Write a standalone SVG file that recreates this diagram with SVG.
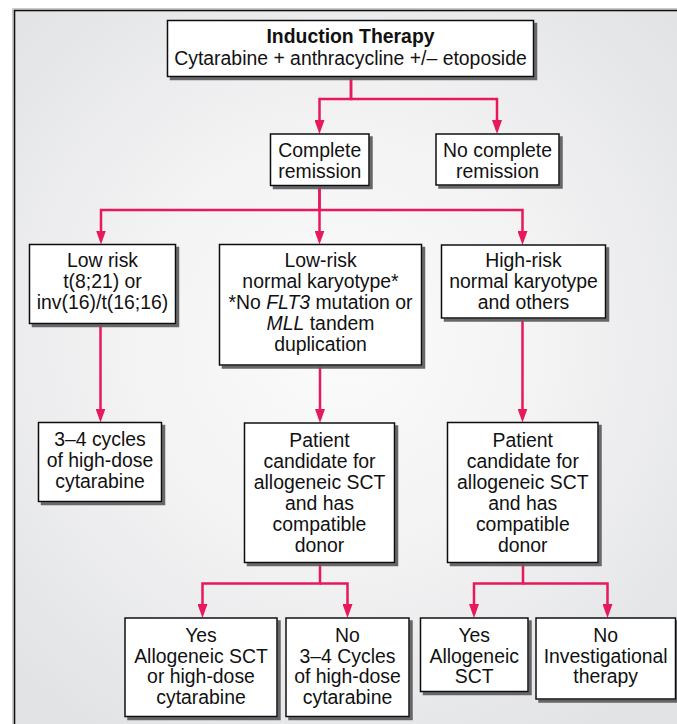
<svg xmlns="http://www.w3.org/2000/svg" width="677" height="724" viewBox="0 0 677 724">
  <defs>
    <radialGradient id="bg" gradientUnits="userSpaceOnUse" cx="340" cy="340" r="460">
      <stop offset="0" stop-color="#fbfbfb"/>
      <stop offset="0.45" stop-color="#f3f3f4"/>
      <stop offset="1" stop-color="#e2e3e5"/>
    </radialGradient>
    <filter id="shadow" x="-10%" y="-10%" width="130%" height="130%">
      <feDropShadow dx="3" dy="3" stdDeviation="0.5" flood-color="#606063" flood-opacity="0.95"/>
    </filter>
    <marker id="arrow" markerUnits="userSpaceOnUse" viewBox="0 0 14 10" markerWidth="14" markerHeight="10" refX="10" refY="5" orient="auto">
      <path d="M0,0 L14,5 L0,10 Z" fill="#e8195a"/>
    </marker>
  </defs>
  <style>
    .box { fill: #ffffff; stroke: #111111; stroke-width: 1.5; filter: url(#shadow); }
    .lbl { font-family: "Liberation Sans", Arial, Helvetica, sans-serif; font-size: 19.4px; fill: #111111; text-anchor: middle; }
    .b { font-weight: bold; }
    .i { font-style: italic; }
    .edge { fill: none; stroke: #e8195a; stroke-width: 2.5; stroke-linejoin: miter; }
  </style>

  <!-- page frame -->
  <rect x="0" y="0" width="677" height="724" fill="#ffffff"/>
  <rect x="14" y="10" width="700" height="760" fill="url(#bg)"/>
  <rect x="12.8" y="8.8" width="702" height="762" fill="none" stroke="#b5b5b5" stroke-width="1"/>
  <rect x="14.5" y="10.5" width="700" height="760" fill="none" stroke="#111111" stroke-width="1.6"/>

  <!-- connectors -->
  <g id="connectors">
    <path class="edge" d="M351,77 V99 H319.5 V130" marker-end="url(#arrow)"/>
    <path class="edge" d="M351,77 V99 H497 V130" marker-end="url(#arrow)"/>
    <path class="edge" d="M319.5,186 V210 H101 V240.5" marker-end="url(#arrow)"/>
    <path class="edge" d="M319.5,186 V240.5" marker-end="url(#arrow)"/>
    <path class="edge" d="M319.5,210 H522.5 V241" marker-end="url(#arrow)"/>
    <path class="edge" d="M100.5,324 V418.5" marker-end="url(#arrow)"/>
    <path class="edge" d="M320,365.5 V419" marker-end="url(#arrow)"/>
    <path class="edge" d="M522.5,318.5 V418.5" marker-end="url(#arrow)"/>
    <path class="edge" d="M320,563 V583.5 H202.5 V614" marker-end="url(#arrow)"/>
    <path class="edge" d="M320,583.5 H347.5 V614" marker-end="url(#arrow)"/>
    <path class="edge" d="M523,563 V583.5 H474 V614" marker-end="url(#arrow)"/>
    <path class="edge" d="M523,583.5 H607.5 V614" marker-end="url(#arrow)"/>
  </g>

  <g id="induction">
    <rect class="box" x="167.5" y="20.5" width="366" height="56"/>
    <text class="lbl b" x="350.5" y="42.5">Induction Therapy</text>
    <text class="lbl" x="350.5" y="65">Cytarabine + anthracycline +/– etoposide</text>
  </g>

  <g id="complete">
    <rect class="box" x="270.5" y="134" width="98.5" height="51.5"/>
    <text class="lbl" x="319.8" y="156.5">Complete</text>
    <text class="lbl" x="319.8" y="177.5">remission</text>
  </g>

  <g id="no-complete">
    <rect class="box" x="436" y="134" width="123" height="51"/>
    <text class="lbl" x="497.5" y="156.5">No complete</text>
    <text class="lbl" x="497.5" y="177.5">remission</text>
  </g>

  <g id="low-risk">
    <rect class="box" x="29.5" y="244.5" width="146" height="79"/>
    <text class="lbl" x="102.5" y="267.3">Low risk</text>
    <text class="lbl" x="102.5" y="288.3">t(8;21) or</text>
    <text class="lbl" x="102.5" y="309.3">inv(16)/t(16;16)</text>
  </g>

  <g id="low-risk-normal">
    <rect class="box" x="219.5" y="244.5" width="202" height="120.5"/>
    <text class="lbl" x="320.5" y="267.3">Low-risk</text>
    <text class="lbl" x="320.5" y="288.3">normal karyotype*</text>
    <text class="lbl" x="320.5" y="309.3">*No <tspan class="i">FLT3</tspan> mutation or</text>
    <text class="lbl" x="320.5" y="330.2"><tspan class="i">MLL</tspan> tandem</text>
    <text class="lbl" x="320.5" y="351.2">duplication</text>
  </g>

  <g id="high-risk">
    <rect class="box" x="441.5" y="245" width="164" height="73"/>
    <text class="lbl" x="523.5" y="267.3">High-risk</text>
    <text class="lbl" x="523.5" y="288.3">normal karyotype</text>
    <text class="lbl" x="523.5" y="309.3">and others</text>
  </g>

  <g id="cycles">
    <rect class="box" x="38.5" y="422.5" width="123" height="79"/>
    <text class="lbl" x="100" y="446">3–4 cycles</text>
    <text class="lbl" x="100" y="466.8">of high-dose</text>
    <text class="lbl" x="100" y="487.7">cytarabine</text>
  </g>

  <g id="patient-low">
    <rect class="box" x="244.5" y="423" width="150" height="139.5"/>
    <text class="lbl" x="319.5" y="446.7">Patient</text>
    <text class="lbl" x="319.5" y="467.5">candidate for</text>
    <text class="lbl" x="319.5" y="488.5">allogeneic SCT</text>
    <text class="lbl" x="319.5" y="509.5">and has</text>
    <text class="lbl" x="319.5" y="530.5">compatible</text>
    <text class="lbl" x="319.5" y="551.5">donor</text>
  </g>

  <g id="patient-high">
    <rect class="box" x="447.5" y="422.5" width="150.5" height="140"/>
    <text class="lbl" x="522.8" y="446.7">Patient</text>
    <text class="lbl" x="522.8" y="467.5">candidate for</text>
    <text class="lbl" x="522.8" y="488.5">allogeneic SCT</text>
    <text class="lbl" x="522.8" y="509.5">and has</text>
    <text class="lbl" x="522.8" y="530.5">compatible</text>
    <text class="lbl" x="522.8" y="551.5">donor</text>
  </g>

  <g id="yes-low">
    <rect class="box" x="125" y="618" width="152" height="98.5"/>
    <text class="lbl" x="201" y="641.7">Yes</text>
    <text class="lbl" x="201" y="662.7">Allogeneic SCT</text>
    <text class="lbl" x="201" y="683.3">or high-dose</text>
    <text class="lbl" x="201" y="704">cytarabine</text>
  </g>

  <g id="no-low">
    <rect class="box" x="286" y="618" width="123" height="98.5"/>
    <text class="lbl" x="347.5" y="641.7">No</text>
    <text class="lbl" x="347.5" y="662.7">3–4 Cycles</text>
    <text class="lbl" x="347.5" y="683.3">of high-dose</text>
    <text class="lbl" x="347.5" y="704">cytarabine</text>
  </g>

  <g id="yes-high">
    <rect class="box" x="420.5" y="618" width="107.5" height="73.5"/>
    <text class="lbl" x="474.2" y="641.7">Yes</text>
    <text class="lbl" x="474.2" y="662.7">Allogeneic</text>
    <text class="lbl" x="474.2" y="683.3">SCT</text>
  </g>

  <g id="no-high">
    <rect class="box" x="536" y="618" width="139.5" height="81"/>
    <text class="lbl" x="605.7" y="641.7">No</text>
    <text class="lbl" x="605.7" y="662.7">Investigational</text>
    <text class="lbl" x="605.7" y="683.3">therapy</text>
  </g>
</svg>
